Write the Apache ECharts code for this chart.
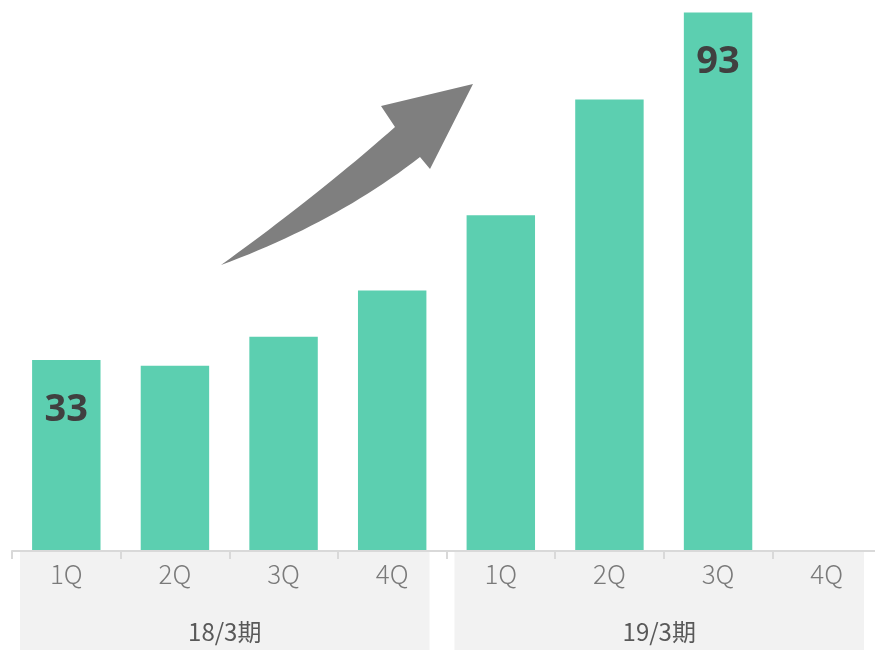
<!DOCTYPE html>
<html><head><meta charset="utf-8">
<script src="https://cdn.jsdelivr.net/npm/echarts@6/dist/echarts.min.js"></script>
<style>html,body{margin:0;padding:0;background:#fff}#c{width:875px;height:650px}</style>
</head><body><div id="c"></div>
<script>
const quarters = ['1Q','2Q','3Q','4Q','1Q','2Q','3Q','4Q'];
const values = [33, 32, 37, 45, 58, 78, 93, null];
const labeled = [true, false, false, false, false, false, true, false];
const groups = ['18/3期', '19/3期'];
const groupSize = 4;

const chart = echarts.init(document.getElementById('c'));
const option = {
  animation: false,
  grid: { left: 12, width: 869, top: 1, bottom: 99, containLabel: false, outerBoundsMode: 'none' },
  xAxis: {
    type: 'category',
    data: quarters,
    axisLine: { show: true, lineStyle: { color: '#d9d9d9', width: 2 } },
    axisTick: { show: true, length: 8, lineStyle: { color: '#d9d9d9', width: 2 } },
    axisLabel: { show: true, color: '#7a7a7a', fontSize: 26, fontFamily: 'Noto Sans CJK JP', fontWeight: 300, margin: 10 },
    z: 5
  },
  yAxis: { type: 'value', min: 0, max: 95, show: false, splitLine: { show: false } },
  series: [{
    type: 'bar',
    barWidth: '63%',
    itemStyle: { color: '#5ccfb0' },
    data: values.map((v, i) => ({
      value: v,
      label: {
        show: labeled[i], position: 'insideTop', distance: 31,
        color: '#404040', fontSize: 38, fontWeight: 'bold', fontFamily: 'Noto Sans'
      }
    }))
  }]
};
chart.setOption(option);

const bw = chart.convertToPixel({ xAxisIndex: 0 }, 1) - chart.convertToPixel({ xAxisIndex: 0 }, 0);
const axisY = chart.convertToPixel({ yAxisIndex: 0 }, 0);
const graphics = [];
groups.forEach((g, gi) => {
  const c0 = chart.convertToPixel({ xAxisIndex: 0 }, gi * groupSize);
  const c1 = chart.convertToPixel({ xAxisIndex: 0 }, gi * groupSize + groupSize - 1);
  const x0 = c0 - bw / 2 + 8;
  const x1 = c1 + bw / 2 - 17;
  graphics.push({
    type: 'rect', z: -10, silent: true,
    shape: { x: x0, y: axisY + 1, width: x1 - x0, height: 650 - axisY },
    style: { fill: '#f2f2f2' }
  });
  graphics.push({
    type: 'text', z: 10, silent: true,
    x: (x0 + x1) / 2, y: axisY + 81,
    style: { text: g, fill: '#595959', fontSize: 24, fontFamily: 'Noto Sans CJK JP', align: 'center', verticalAlign: 'middle' }
  });
});
// decorative arrow: quadratic curves sampled into a polygon
function quad(p0, c, p1, n) {
  const pts = [];
  for (let i = 0; i <= n; i++) {
    const t = i / n, u = 1 - t;
    pts.push([u*u*p0[0] + 2*u*t*c[0] + t*t*p1[0], u*u*p0[1] + 2*u*t*c[1] + t*t*p1[1]]);
  }
  return pts;
}
const arrowPts = [].concat(
  quad([221, 265], [318, 195], [395, 127], 24),
  [[381, 106], [473, 84], [430, 169]],
  quad([420, 157], [335, 223], [221, 265], 24)
);
graphics.push({
  type: 'polygon', z: 10, silent: true,
  shape: { points: arrowPts },
  style: { fill: '#7f7f7f' }
});
chart.setOption({ graphic: graphics });
</script>
</body></html>
